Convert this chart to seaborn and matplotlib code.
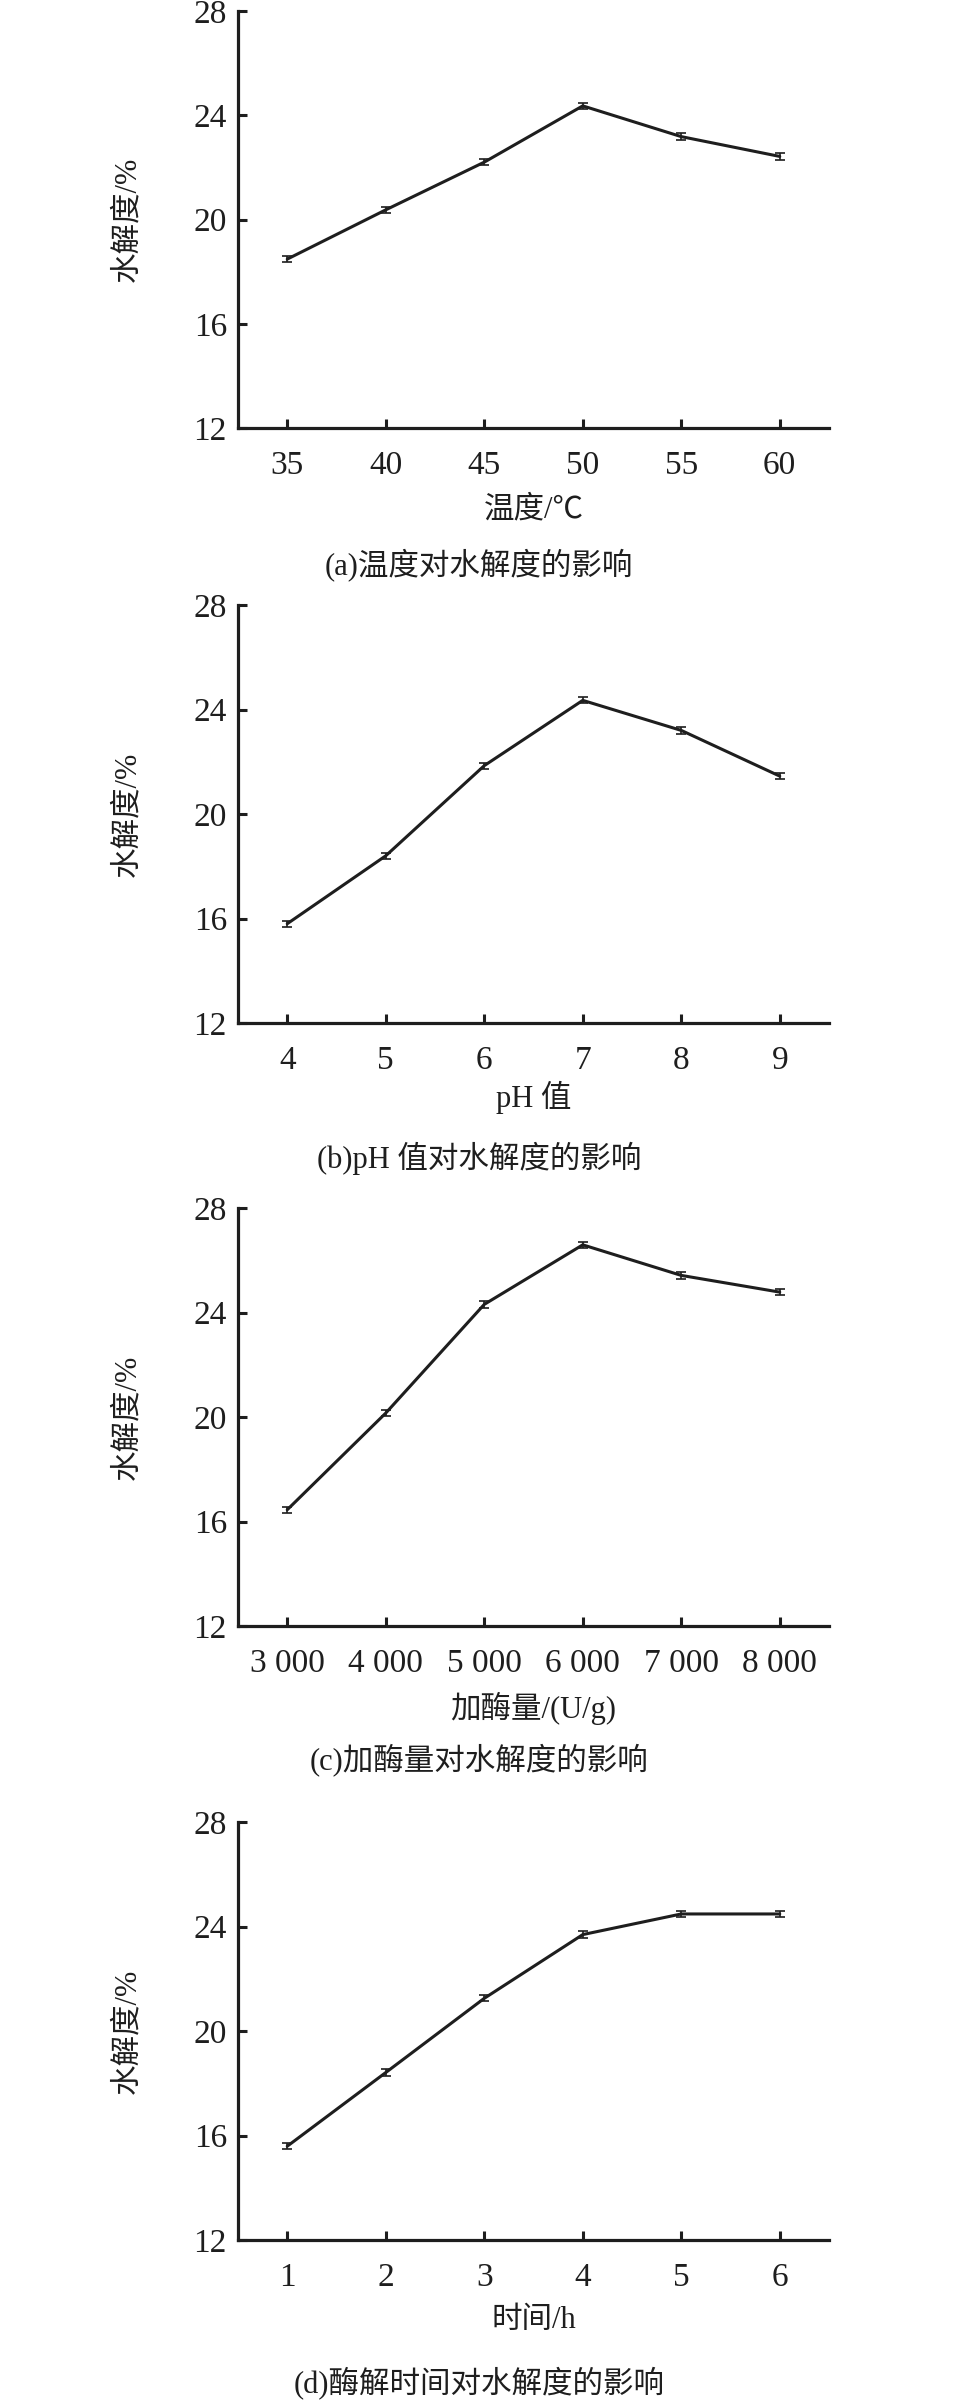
import numpy as np
import matplotlib
matplotlib.use('Agg')
import matplotlib.pyplot as plt
import seaborn as sns

# data
temp = [35, 40, 45, 50, 55, 60]
dh_temp = [18.48, 20.37, 22.2, 24.36, 23.18, 22.42]

ph = [4, 5, 6, 7, 8, 9]
dh_ph = [15.8, 18.4, 21.85, 24.35, 23.2, 21.45]

enzyme = [3000, 4000, 5000, 6000, 7000, 8000]
enzyme_labels = ['3 000', '4 000', '5 000', '6 000', '7 000', '8 000']
dh_enzyme = [16.45, 20.15, 24.31, 26.59, 25.42, 24.78]

hours = [1, 2, 3, 4, 5, 6]
dh_time = [15.59, 18.41, 21.25, 23.69, 24.48, 24.48]

err = [0.12, 0.12, 0.12, 0.12, 0.12, 0.12]

yticks = [12, 16, 20, 24, 28]

xlabels = ['温度/℃', 'pH 值', '加酶量/(U/g)', '时间/h']
captions = ['(a)温度对水解度的影响', '(b)pH 值对水解度的影响',
            '(c)加酶量对水解度的影响', '(d)酶解时间对水解度的影响']
ylabel = '水解度/%'

sns.set_style('ticks')
plt.rcParams['font.family'] = ['Liberation Serif', 'Noto Sans CJK SC']
plt.rcParams['axes.unicode_minus'] = False

fig = plt.figure(figsize=(9.58, 24), dpi=100)

# panel boxes in pixels (top, bottom) of the axes
W, H = 958, 2400
left_px, right_px = 238, 829
panels = [(11, 428), (605, 1023), (1208, 1626), (1822, 2240)]
xlab_off = [82, 74, 82, 80]
cap_off = [137, 135, 134, 143]

series = [(temp, dh_temp, 5, [str(v) for v in temp]),
          (ph, dh_ph, 1, [str(v) for v in ph]),
          (enzyme, dh_enzyme, 1000, enzyme_labels),
          (hours, dh_time, 1, [str(v) for v in hours])]

ink = '#1e1e1e'

for i, ((xs, ys, step, labels), (top, bot)) in enumerate(zip(series, panels)):
    ax = fig.add_axes([left_px / W, 1 - bot / H, (right_px - left_px) / W, (bot - top) / H])
    sns.lineplot(x=xs, y=ys, ax=ax, color=ink, linewidth=2.2)
    ax.errorbar(xs, ys, yerr=err, fmt='none', ecolor=ink, elinewidth=1.2,
                capsize=3.5, capthick=1.2)

    ax.set_xlim(xs[0] - step / 2, xs[-1] + step / 2)
    ax.set_ylim(12, 28)
    ax.set_xticks(xs)
    ax.set_xticklabels(labels)
    ax.set_yticks(yticks)

    sns.despine(ax=ax)
    for s in ['left', 'bottom']:
        ax.spines[s].set_linewidth(2.3)
        ax.spines[s].set_color(ink)
    ax.tick_params(direction='in', length=6.5, width=2.2, color=ink,
                   labelsize=24, labelcolor=ink)
    ax.tick_params(axis='x', pad=16)
    ax.tick_params(axis='y', pad=8)

    ax.set_xlabel(xlabels[i], fontsize=22, color=ink)
    ax.xaxis.set_label_coords(0.5, -xlab_off[i] / (bot - top))
    ax.xaxis.label.set_va('center')
    ax.set_ylabel(ylabel, fontsize=22, color=ink)
    ax.yaxis.set_label_coords(-110 / (right_px - left_px), 0.5)
    ax.yaxis.label.set_va('center')

    fig.text(0.5, 1 - (bot + cap_off[i]) / H, captions[i], fontsize=22,
             color=ink, ha='center', va='center')

fig.savefig('out.png', dpi=100, facecolor='white')
